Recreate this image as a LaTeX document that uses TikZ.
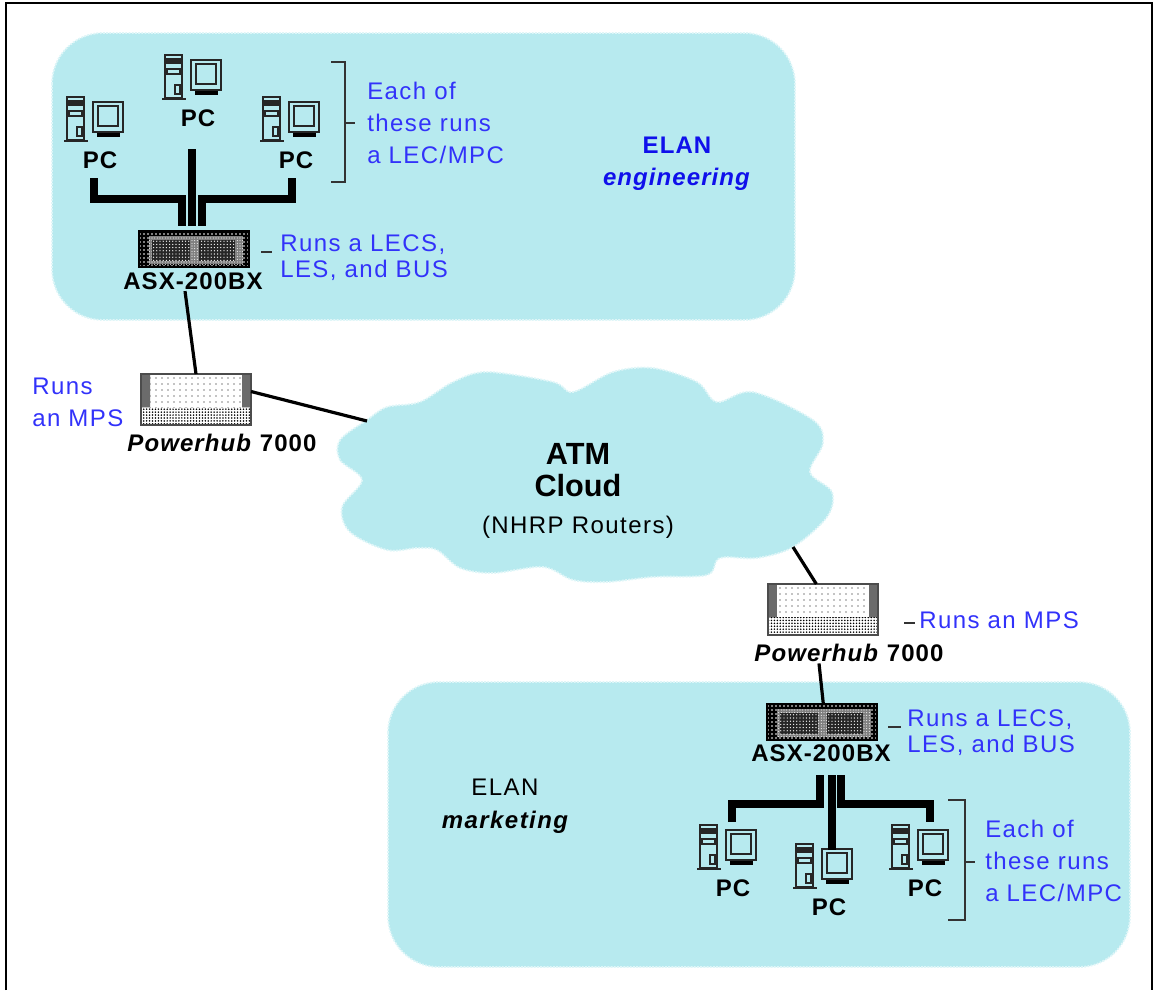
\documentclass[tikz,border=0pt]{standalone}
\usepackage{fontspec}
\setmainfont{Liberation Sans}
\newfontfamily\notefont[LetterSpace=6]{Liberation Sans}
\newfontfamily\devfont[LetterSpace=4.5]{Liberation Sans}
\usetikzlibrary{patterns.meta}
\definecolor{elanblue}{RGB}{183,234,239}
\definecolor{noteblue}{RGB}{50,50,250}
\definecolor{titleblue}{RGB}{16,16,235}
\tikzset{
  blob/.style={fill=elanblue, draw=elanblue!45, densely dotted, line width=1.4pt},
  wire/.style={line width=6pt, black},
  link/.style={line width=2.4pt, black},
  bracket/.style={line width=1.2pt, black!80},
  note/.style={text=noteblue, align=left, anchor=west, inner sep=0pt, font=\fontsize{18}{24}\notefont},
  elan/.style={align=center, inner sep=0pt, font=\fontsize{18}{24.75}\notefont},
  devlabel/.style={inner sep=1pt, font=\fontsize{18}{22}\devfont\bfseries},
  pcline/.style={line width=1.5pt, black!85},
  pcbox/.pic={
    \draw[pcline] (0,0) rectangle (17,43);
    \fill[black!85] (1,3) rectangle (16,9);
    \draw[pcline] (2,14) rectangle (15,19);
    \draw[pcline] (10,30) rectangle (15,39);
    \draw[pcline] (-3,44) -- (21,44);
    \draw[pcline] (26,5) rectangle (56,35);
    \draw[pcline] (31,9) rectangle (51,29);
    \fill[black] (30,36) rectangle (53,40);
    \node[devlabel] (-label) at (33,63) {PC};
  },
  hubbox/.pic={
    \fill[white] (0,0) rectangle (110,51);
    \fill[pattern={Dots[distance=4.5pt,radius=.55pt]}] (9,0) rectangle (101,33);
    \fill[black!45] (0,0) rectangle (9,33);
    \fill[black!45] (101,0) rectangle (110,33);
    \fill[pattern={Dots[distance=1.5pt,radius=.5pt]}] (0,0) rectangle (9,33);
    \fill[pattern={Dots[distance=1.5pt,radius=.5pt]}] (101,0) rectangle (110,33);
    \fill[pattern={Dots[distance=2.2pt,radius=.65pt]}] (0,33) rectangle (110,51);
    \node[draw=black!70, line width=.8pt, inner sep=0pt, outer sep=0pt, minimum width=82.5pt, minimum height=38.25pt, anchor=north west] (-body) at (0,0) {};
  },
  switchbox/.pic={
    \fill[black] (0,0) rectangle (110,36);
    \fill[pattern={Dots[distance=3pt,radius=.6pt]}, pattern color=white] (0,0) rectangle (110,36);
    \fill[black!50] (10,5) rectangle (104,33);
    \fill[pattern={Dots[distance=2pt,radius=.4pt]}, pattern color=white] (10,5) rectangle (104,33);
    \fill[black!85] (13,9) rectangle (51,30);
    \fill[black!85] (60,9) rectangle (96,30);
    \fill[pattern={Dots[distance=2.4pt,radius=.5pt]}, pattern color=white] (13,9) rectangle (51,30);
    \fill[pattern={Dots[distance=2.4pt,radius=.5pt]}, pattern color=white] (60,9) rectangle (96,30);
    \node[draw=black, line width=.8pt, inner sep=0pt, outer sep=0pt, minimum width=82.5pt, minimum height=27pt, anchor=north west] (-body) at (0,0) {};
  }
}
\begin{document}
\begin{tikzpicture}[x=.75pt, y=-.75pt]
  \useasboundingbox (0,0) rectangle (1154,990);
  % Frame
  \draw[line width=2.2pt, black] (6,990) -- (6,3) -- (1152,3) -- (1152,990);
  % ELANs
  \filldraw[blob, rounded corners=38pt] (52,33) rectangle (795,320);
  \filldraw[blob, rounded corners=38pt] (388,682) rectangle (1130,967);
  % ATM cloud
  \filldraw[blob] plot[smooth cycle, tension=.55] coordinates {
    (367,420) (340,440) (340,460) (362,480) (342,507) (350,532) (387,550)
    (417,548) (437,550) (460,568) (493,573) (543,567) (573,580) (607,582)
    (653,577) (707,575) (720,558) (757,558) (793,547) (827,517) (832,492)
    (810,472) (823,443) (813,420) (753,392) (717,402) (697,382) (653,368)
    (613,372) (573,392) (553,382) (487,372) (453,382) (420,402) (387,407)};
  \node[font=\fontsize{23}{23.5}\selectfont\bfseries, align=center, inner sep=0pt] (atm) at (578,470) {ATM\\Cloud};
  \node[font=\fontsize{18}{22}\notefont, inner sep=0pt] (nhrp) at (578,527) {(NHRP Routers)};
  \coordinate (cloudW) at (367,421);
  \coordinate (cloudE) at (793,547);

  % ELAN engineering
  \pic (pcA) at (67,97) {pcbox};
  \pic (pcB) at (165,55) {pcbox};
  \pic (pcC) at (263,97) {pcbox};
  \pic (swA) at (139,231) {switchbox};
  \node[devlabel] (swAlabel) at (193,281) {ASX-200BX};
  \pic (hubA) at (141,374) {hubbox};
  \node[devlabel] (hubAlabel) at (222,443) {\textit{Powerhub} 7000};
  \coordinate (tapA) at (94,178);
  \coordinate (tapB) at (192,149);
  \coordinate (tapC) at (292,178);
  \coordinate (bendA) at (182,198.5);
  \coordinate (bendC) at (202,198.5);
  \draw[wire, shorten >=3.75pt] (tapA) |- (bendA) -- (bendA |- swA-body.north);
  \draw[wire, shorten >=3.75pt] (tapB) -- (tapB |- swA-body.north);
  \draw[wire, shorten >=3.75pt] (tapC) |- (bendC) -- (bendC |- swA-body.north);
  \draw[link] ([xshift=-6pt]swAlabel.south) -- (hubA-body.north);
  \draw[link] ([yshift=6pt]hubA-body.east) -- (cloudW);
  % Notes
  \draw[bracket] (331,62) -| (345,182) -- (331,182);
  \draw[bracket] (345,123) -- (355,123);
  \node[note] (noteA) at (367,123) {Each of\\these runs\\a LEC/MPC};
  \draw[bracket] (261,252) -- (272,252);
  \node[note, font=\fontsize{18}{19}\notefont] (noteB) at (280,257.5) {Runs a LECS,\\LES, and BUS};
  \node[note] (noteC) at (32,402) {Runs\\an MPS};
  \node[elan, text=titleblue, font=\fontsize{18}{24}\devfont\bfseries] (elanA) at (677,164) {ELAN\\\textit{engineering}};

  % ELAN marketing
  \pic (hubB) at (768,584) {hubbox};
  \node[devlabel] (hubBlabel) at (849,653) {\textit{Powerhub} 7000};
  \pic (swB) at (767,704) {switchbox};
  \node[devlabel] (swBlabel) at (821,753) {ASX-200BX};
  \pic (pcD) at (700,825) {pcbox};
  \pic (pcE) at (796,844) {pcbox};
  \pic (pcF) at (892,825) {pcbox};
  \coordinate (tapD) at (820,775);
  \coordinate (tapE) at (832,775);
  \coordinate (tapF) at (841,775);
  \coordinate (bendD) at (732,804);
  \coordinate (bendF) at (930,804);
  \coordinate (endD) at (732,822);
  \coordinate (endE) at (832,850);
  \coordinate (endF) at (930,822);
  \draw[wire] (tapD) |- (bendD) -- (endD);
  \draw[wire] (tapE) -- (endE);
  \draw[wire] (tapF) |- (bendF) -- (endF);
  \draw[link] (cloudE) -- ([xshift=-5pt]hubB-body.north);
  \draw[link] ([xshift=-22.5pt]hubBlabel.south) -- ([xshift=1pt]swB-body.north);
  % Notes
  \draw[bracket] (904,623) -- (915,623);
  \node[note] (noteD) at (919,620) {Runs an MPS};
  \draw[bracket] (888,727) -- (901,727);
  \node[note, font=\fontsize{18}{19}\notefont] (noteE) at (907,732.5) {Runs a LECS,\\LES, and BUS};
  \draw[bracket] (948,800) -| (965,920) -- (948,920);
  \draw[bracket] (965,862) -- (975,862);
  \node[note] (noteF) at (985,861) {Each of\\these runs\\a LEC/MPC};
  \node[elan] (elanB) at (505,806) {ELAN\\{\bfseries\itshape marketing}};
\end{tikzpicture}
\end{document}
